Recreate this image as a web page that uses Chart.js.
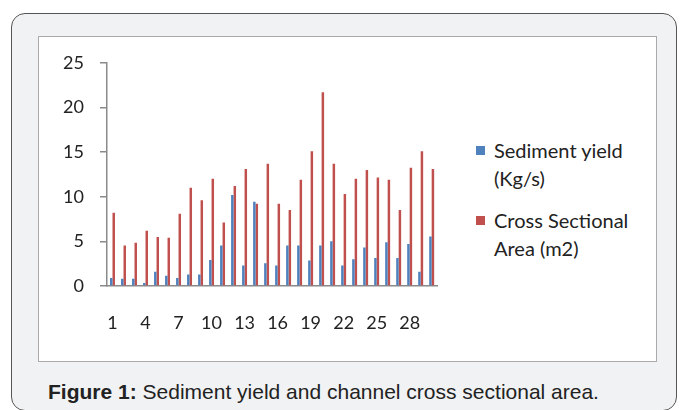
<!DOCTYPE html>
<html>
<head>
<meta charset="utf-8">
<script src="https://cdn.jsdelivr.net/npm/chart.js@4"></script>
<style>
  body { margin: 0; background: #fff; width: 684px; height: 410px; overflow: hidden; position: relative; }
  #frame {
    position: absolute; left: 11px; top: 13px; width: 664px; height: 396px;
    border: 1.5px solid #555; border-radius: 14px; background: #f1f2f3;
  }
  #panel {
    position: absolute; left: 38px; top: 36px; width: 617px; height: 324px;
    border: 1.5px solid #aaa; background: #fff;
  }
  #chart-wrap { position: absolute; left: 38px; top: 36px; width: 420px; height: 326px; }
  #legend {
    position: absolute; left: 476px; top: 136px; width: 175px;
    font-family: Lato, "Open Sans", sans-serif; font-size: 20px; line-height: 28px; color: #222;
  }
  .item { position: relative; padding-left: 18px; margin-bottom: 14px; }
  .swatch { position: absolute; left: 0; top: 10px; width: 9px; height: 9px; }
  #caption {
    position: absolute; left: 48px; top: 380px; white-space: nowrap;
    font-family: "Liberation Sans", Arial, sans-serif; font-size: 21px; color: #222;
  }
</style>
</head>
<body>
<div id="frame"></div>
<div id="panel"></div>
<div id="chart-wrap"><canvas id="chart-canvas"></canvas></div>
<div id="legend"></div>
<div id="caption"><b>Figure 1:</b> Sediment yield and channel cross sectional area.</div>
<script>
// ------------------------ DATA ----------------------------
const categories = ["1", "2", "3", "4", "5", "6", "7", "8", "9", "10",
  "11", "12", "13", "14", "15", "16", "17", "18", "19", "20",
  "21", "22", "23", "24", "25", "26", "27", "28", "29", "30"];

const sedimentYield = [0.9, 0.8, 0.8, 0.35, 1.6, 1.15, 0.9, 1.3, 1.3, 2.9,
  4.55, 10.2, 2.3, 9.45, 2.55, 2.3, 4.55, 4.55, 2.85, 4.55,
  5.0, 2.3, 3.0, 4.3, 3.15, 4.9, 3.15, 4.7, 1.6, 5.55];

const crossSectionalArea = [8.2, 4.55, 4.85, 6.2, 5.5, 5.4, 8.1, 11.0, 9.6, 12.0,
  7.1, 11.2, 13.1, 9.2, 13.7, 9.2, 8.5, 11.9, 15.1, 21.7,
  13.7, 10.3, 12.0, 13.0, 12.15, 11.9, 8.5, 13.25, 15.1, 13.1];

const yTicks = [0, 5, 10, 15, 20, 25];

// ------------------------ CHART ----------------------------
const tickFont = { family: "Lato, 'Open Sans', sans-serif", size: 18 };
const axisColor = "#8a8a8a";

const ctx = document.getElementById("chart-canvas").getContext("2d");
const myChart = new Chart(ctx, {
  type: "bar",
  data: {
    labels: categories,
    datasets: [
      {
        label: "Sediment yield (Kg/s)",
        data: sedimentYield,
        backgroundColor: "#4f81bd",
        categoryPercentage: 0.45,
        barPercentage: 1.0,
      },
      {
        label: "Cross Sectional Area (m2)",
        data: crossSectionalArea,
        backgroundColor: "#c0504d",
        categoryPercentage: 0.45,
        barPercentage: 1.0,
      },
    ],
  },
  options: {
    responsive: true,
    maintainAspectRatio: false,
    animation: false,
    layout: { padding: { top: 18, right: 19, bottom: 0, left: 0 } },
    plugins: {
      legend: { display: false },
      tooltip: { enabled: false },
    },
    scales: {
      x: {
        grid: { drawOnChartArea: false, tickLength: 0 },
        border: { color: axisColor, width: 1.5 },
        ticks: {
          color: "#222",
          font: tickFont,
          autoSkip: false,
          maxRotation: 0,
          padding: 26,
          callback: function (value, index) {
            return index % 3 === 0 ? categories[index] : "";
          },
        },
        afterFit: function (scale) {
          scale.height = 76;
        },
      },
      y: {
        min: 0,
        max: 25,
        afterBuildTicks: function (scale) {
          scale.ticks = yTicks.map((v) => ({ value: v }));
        },
        grid: { drawOnChartArea: false, tickLength: 7, color: axisColor, lineWidth: 1.5 },
        border: { color: axisColor, width: 1.5 },
        ticks: { color: "#222", font: tickFont, padding: 16 },
        afterFit: function (scale) {
          scale.width = 69;
        },
      },
    },
  },
});

// ------------------------ LEGEND ----------------------------
const legend = document.getElementById("legend");
myChart.data.datasets.forEach(function (ds) {
  const item = document.createElement("div");
  item.className = "item";
  const sw = document.createElement("span");
  sw.className = "swatch";
  sw.style.background = ds.backgroundColor;
  item.appendChild(sw);
  item.appendChild(document.createTextNode(ds.label));
  legend.appendChild(item);
});
</script>
</body>
</html>
